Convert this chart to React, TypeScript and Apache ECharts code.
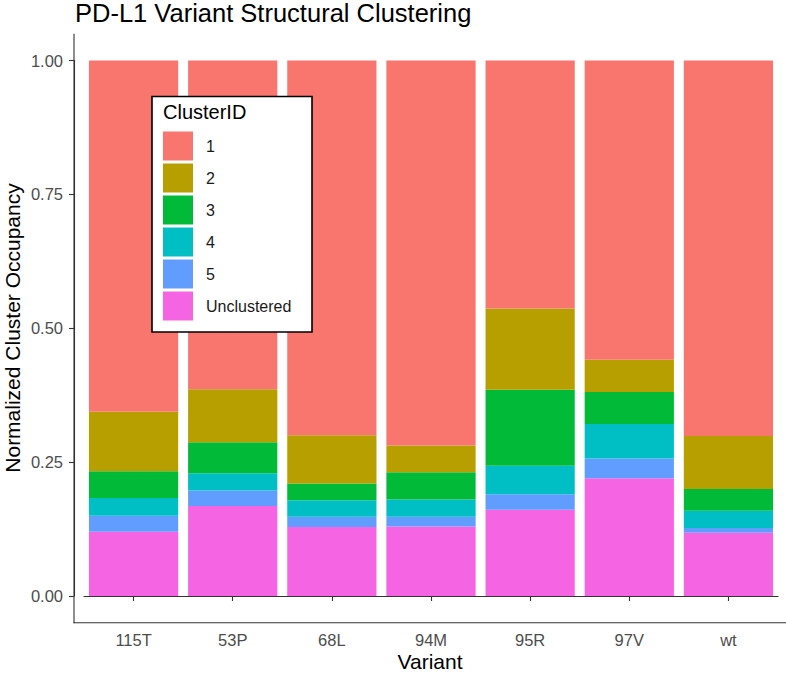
import React, { useEffect, useRef } from "react";
import * as echarts from "echarts";

const categories = ["115T", "53P", "68L", "94M", "95R", "97V", "wt"];
const clusterNames = ["1", "2", "3", "4", "5", "Unclustered"];
const cluster1 = [0.656, 0.614, 0.7, 0.719, 0.463, 0.559, 0.701];
const cluster2 = [0.111, 0.099, 0.09, 0.05, 0.152, 0.06, 0.099];
const cluster3 = [0.05, 0.058, 0.031, 0.051, 0.142, 0.06, 0.041];
const cluster4 = [0.033, 0.032, 0.031, 0.032, 0.053, 0.064, 0.032];
const cluster5 = [0.03, 0.029, 0.019, 0.018, 0.029, 0.037, 0.009];
const unclustered = [0.12, 0.168, 0.129, 0.13, 0.161, 0.22, 0.118];
const yTicks = [0, 0.25, 0.5, 0.75, 1];

const colors: Record<string, string> = {
  "1": "#F8766D",
  "2": "#B79F00",
  "3": "#00BA38",
  "4": "#00BFC4",
  "5": "#619CFF",
  Unclustered: "#F564E3",
};

const FONT = "'Liberation Sans', Arial, sans-serif";

export default function App() {
  const ref = useRef<HTMLDivElement>(null);
  useEffect(() => {
    document.body.style.margin = "0";
    if (!ref.current) return;
    const chart = echarts.init(ref.current, null, { renderer: "svg" });
    const stackOrder: [string, number[]][] = [
      ["Unclustered", unclustered],
      ["5", cluster5],
      ["4", cluster4],
      ["3", cluster3],
      ["2", cluster2],
      ["1", cluster1],
    ];
    chart.setOption({
      animation: false,
      backgroundColor: "#ffffff",
      textStyle: { fontFamily: FONT },
      grid: { left: 84, right: 8, top: 60.5, bottom: 77, containLabel: false },
      xAxis: {
        type: "category",
        data: categories,
        offset: 27,
        axisLine: { show: true, lineStyle: { color: "#333333", width: 1.1 } },
        axisTick: { show: true, alignWithLabel: true, length: 5, lineStyle: { color: "#333333", width: 1.1 } },
        axisLabel: { fontSize: 16.5, color: "#4d4d4d", margin: 8, fontFamily: FONT },
        splitLine: { show: false },
      },
      yAxis: {
        type: "value",
        min: 0,
        max: 1,
        interval: 0.25,
        offset: 10,
        axisLine: { show: true, lineStyle: { color: "#333333", width: 1.1 } },
        axisTick: { show: true, length: 5, lineStyle: { color: "#333333", width: 1.1 } },
        axisLabel: {
          fontSize: 16.5,
          color: "#4d4d4d",
          margin: 11,
          fontFamily: FONT,
          formatter: (v: number) => (yTicks.includes(v) ? v.toFixed(2) : ""),
        },
        splitLine: { show: false },
      },
      legend: {
        data: clusterNames,
        orient: "vertical",
        left: 163,
        top: 131.5,
        itemWidth: 30,
        itemHeight: 29,
        itemGap: 3,
        icon: "rect",
        padding: 0,
        z: 20,
        selectedMode: false,
        textStyle: { fontSize: 16, color: "#1a1a1a", fontFamily: FONT, padding: [0, 0, 0, 8] },
      },
      graphic: [
        {
          type: "text",
          left: 75,
          top: 0,
          style: { text: "PD-L1 Variant Structural Clustering", fontSize: 25.5, fill: "#000000", fontFamily: FONT },
        },
        {
          type: "text",
          x: 430,
          y: 661,
          style: {
            text: "Variant",
            fontSize: 21,
            fill: "#000000",
            fontFamily: FONT,
            textAlign: "center",
            textVerticalAlign: "middle",
          },
        },
        {
          type: "text",
          x: 12,
          y: 328,
          rotation: Math.PI / 2,
          style: {
            text: "Normalized Cluster Occupancy",
            fontSize: 21,
            fill: "#000000",
            fontFamily: FONT,
            textAlign: "center",
            textVerticalAlign: "middle",
          },
        },
        {
          type: "line",
          shape: { x1: 74, y1: 33.7, x2: 74, y2: 623.3 },
          style: { stroke: "#333333", lineWidth: 1.1 },
          z: 5,
        },
        {
          type: "line",
          shape: { x1: 73.5, y1: 622.8, x2: 786, y2: 622.8 },
          style: { stroke: "#333333", lineWidth: 1.1 },
          z: 5,
        },
        {
          type: "rect",
          shape: { x: 152, y: 96.5, width: 160, height: 235.5 },
          style: { fill: "#ffffff", stroke: "#000000", lineWidth: 1.6 },
          z: 10,
        },
        {
          type: "text",
          x: 163,
          y: 112,
          z: 11,
          style: {
            text: "ClusterID",
            fontSize: 20,
            fill: "#000000",
            fontFamily: FONT,
            textVerticalAlign: "middle",
          },
        },
      ],
      series: stackOrder.map(([name, values]) => ({
        name,
        type: "bar",
        stack: "total",
        data: values,
        barCategoryGap: "10%",
        itemStyle: { color: colors[name], borderWidth: 0 },
        emphasis: { disabled: true },
      })),
    });
    return () => chart.dispose();
  }, []);
  return <div ref={ref} style={{ width: 786, height: 673 }} />;
}
